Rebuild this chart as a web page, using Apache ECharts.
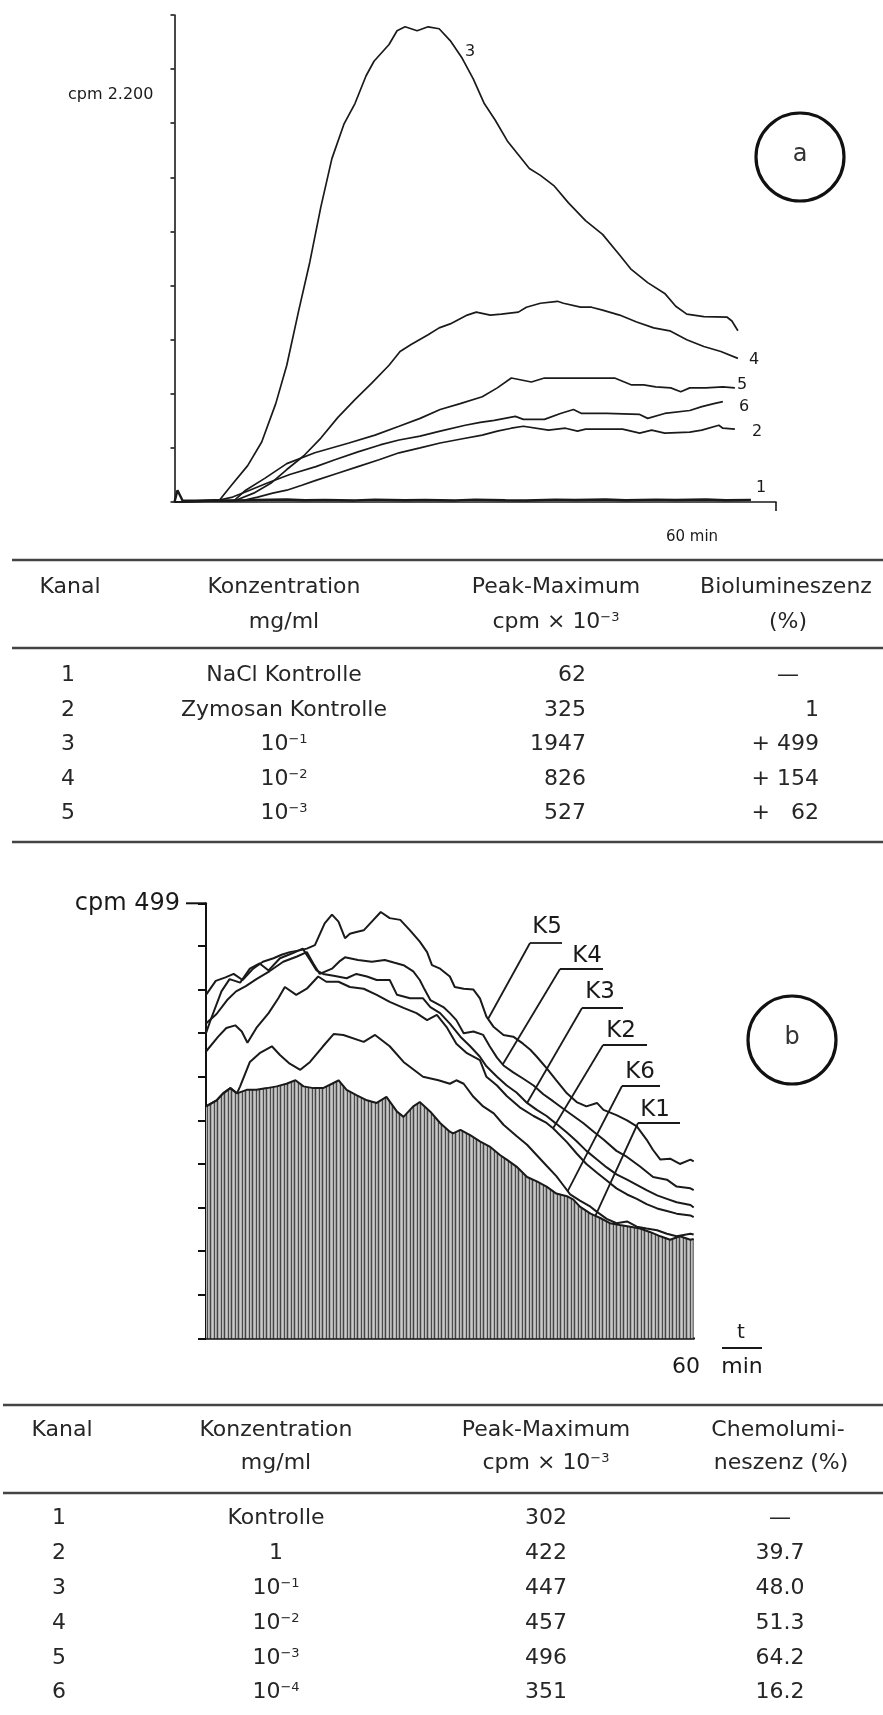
<!DOCTYPE html>
<html><head><meta charset="utf-8">
<script src="https://cdn.jsdelivr.net/npm/echarts@6/dist/echarts.min.js"></script>
<style>html,body{margin:0;padding:0;background:#fff}#c{width:883px;height:1715px}</style>
</head><body><div id="c"></div>
<script>
// ---------------- DATA ----------------
const seriesNamesA = ['1','2','3','4','5','6'];
const yLabelA = 'cpm 2.200';
const xLabelA = '60 min';
const circleLabelA = 'a';
// chart a: [minutes, cpm]
const curveA1 = [[0,0],[0.3,60],[0.8,8],[2,6],[4,9],[6,7],[8,10],[11.2,13],[13,9],[15,11],[18,8],[20,12],[23,9],[25,11],[28,8],[30,12],[33,9],[35,8],[38,12],[40,10],[43,13],[45,9],[48,12],[50,10],[53,13],[55,9],[57.5,11]];
const curveA2 = [[0,0],[5,5],[7,10],[8.3,25],[9.8,45],[11.2,60],[12.7,85],[14.1,110],[16.2,145],[18.3,180],[20.4,215],[22.4,250],[24.5,275],[26.5,300],[28.6,320],[30.7,340],[32.2,360],[33.6,375],[34.8,385],[37.3,365],[39,375],[40.2,360],[41,370],[44.7,370],[46.4,350],[47.6,365],[48.9,350],[51.4,355],[52.6,365],[54.3,390],[54.7,375],[55.9,370]];
const curveA3 = [[0,0],[2,5],[4,8],[4.5,10],[5.6,80],[7.3,185],[8.7,305],[10.1,500],[11.2,695],[12.4,975],[13.5,1220],[14.6,1500],[15.7,1745],[16.9,1920],[18,2025],[19.1,2165],[19.9,2240],[21.4,2325],[22.2,2395],[23,2415],[24.2,2395],[25.3,2415],[26.4,2405],[27.5,2345],[28.7,2255],[29.8,2150],[30.9,2025],[32,1940],[33.2,1835],[34.3,1765],[35.4,1695],[36.5,1660],[37.9,1605],[39.3,1520],[41,1430],[42.7,1360],[44.4,1255],[45.5,1185],[47.2,1115],[48.9,1060],[50,995],[51.1,955],[52.8,942],[55.1,940],[55.6,920],[56.2,870]];
const curveA4 = [[0,0],[3,4],[5.5,6],[6.2,10],[7.9,45],[9.6,95],[11.2,165],[12.9,235],[14.6,325],[16.3,430],[18,520],[19.7,605],[21.4,695],[22.5,765],[23.6,800],[25.3,850],[26.4,885],[27.5,905],[29.2,950],[30.1,965],[31.5,950],[32.6,955],[34.3,965],[35.1,990],[36.5,1010],[38.2,1020],[38.8,1010],[40.5,990],[41.6,990],[42.7,975],[44.4,950],[46.1,915],[47.8,885],[49.4,870],[51.1,825],[52.8,790],[54.5,765],[56.2,730]];
const curveA5 = [[0,0],[4,5],[6,10],[7.1,60],[9,120],[11.2,195],[14,250],[17.4,300],[20,340],[22.4,385],[24.5,425],[26.5,470],[28.5,500],[30.7,535],[32.2,580],[33.6,630],[35.6,610],[36.9,630],[40,630],[43.9,630],[45.6,595],[46.8,595],[48,585],[49.5,580],[50.5,560],[51.4,580],[53,580],[54.7,585],[55.9,580]];
const curveA6 = [[0,0],[4,5],[5.8,25],[7.5,60],[9.2,95],[11.5,140],[14.1,180],[16,215],[18.3,255],[20.5,290],[22.4,315],[24.5,335],[26.5,360],[29,390],[30.5,405],[31.9,415],[34,435],[34.8,420],[36.9,420],[38.5,450],[39.8,470],[40.6,450],[43.1,450],[46.4,445],[47.2,425],[48.9,450],[51.4,465],[52.6,485],[53.8,500],[54.7,510]];

const seriesNamesB = ['K1','K2','K3','K4','K5','K6'];
const yLabelB = 'cpm 499';
const xLabelB = '60';
const unitLabelB = ['t','min'];
const circleLabelB = 'b';
// chart b: [minutes, cpm]
const curveK1 = [[0,266],[1.3,273],[2.1,281],[3,287],[3.8,281],[5,285],[6.2,285],[7.5,287],[8.7,289],[9.9,292],[11,296],[12,289],[13.2,287],[14.4,287],[15.5,292],[16.3,296],[17.3,285],[18.5,279],[19.8,273],[21,270],[22.2,277],[23.5,260],[24.3,254],[25.5,266],[26.3,271],[27.6,260],[28.8,247],[30,237],[30.4,235],[31.3,239],[32.5,233],[33.7,226],[34.9,220],[36.2,210],[37,205],[38.2,197],[39.5,185],[40.7,180],[41.9,174],[43.1,166],[44.4,163],[45.2,159],[46,151],[47.3,143],[48.5,138],[49.7,132],[50.9,130],[52.2,128],[53.4,126],[54.6,122],[55.9,117],[57.1,113],[58.3,117],[59.6,113],[60,114]];
const curveK2 = [[0,329],[1.5,346],[2.5,356],[3.6,359],[4.4,352],[5.1,339],[6.2,356],[7.7,373],[8.9,390],[9.7,403],[11.1,394],[12.4,401],[13.8,415],[14.8,409],[16.3,409],[17.7,403],[19.4,401],[21,394],[22.6,386],[24.3,379],[25.9,373],[27.2,365],[28.4,371],[29.6,357],[30.8,338],[32.1,327],[33.7,319],[34.5,300],[35.8,290],[37,278],[38.6,265],[40.3,255],[41.9,247],[42.7,241],[44.4,225],[45.6,212],[46.8,200],[48.1,190],[49.3,181],[50.5,172],[51.8,165],[53,160],[54.2,154],[55.5,149],[56.7,146],[57.9,143],[59.6,141],[60,139]];
const curveK3 = [[0,350],[0.6,366],[1.9,398],[2.9,412],[4.2,408],[5.4,424],[6.6,430],[7.7,422],[9.1,436],[10.7,442],[11.9,447],[12.8,434],[13.6,422],[14.4,418],[15.7,416],[17.3,413],[18.5,418],[19.8,415],[21,411],[22.6,411],[23.5,394],[25.1,390],[26.7,390],[27.6,380],[28.8,373],[30,361],[31.3,346],[32.5,335],[33.7,323],[34.5,312],[35.8,300],[37,290],[38.2,282],[39.5,270],[40.7,262],[41.9,255],[43.1,246],[44.4,236],[45.6,226],[46.8,215],[48.1,205],[49.3,196],[50.5,188],[51.8,182],[53,176],[54.2,170],[55.5,164],[56.7,160],[57.9,156],[59.6,153],[60,150]];
const curveK4 = [[0,361],[1.3,372],[2.6,388],[3.7,398],[4.9,404],[6.2,412],[7.8,421],[9.5,432],[11.2,438],[12.4,443],[13.2,430],[14,418],[15.5,424],[16.5,433],[17.1,437],[18.7,434],[20.4,432],[22,434],[23.1,431],[24.3,428],[25.5,421],[26.3,411],[26.9,400],[27.6,388],[29.2,380],[30,373],[30.8,365],[31.7,350],[32.9,352],[34.1,348],[34.9,335],[35.8,322],[36.6,313],[37.8,305],[39,298],[40.3,290],[41.5,280],[42.7,272],[44,263],[45.2,255],[46.4,247],[47.7,237],[48.9,228],[50.5,215],[51.8,208],[53.4,197],[55,185],[56.7,182],[57.9,174],[59.6,172],[60,170]];
const curveK5 = [[0,394],[1.2,410],[2.4,414],[3.4,418],[4.5,411],[5.8,424],[7,432],[8.3,436],[9.3,440],[10.3,443],[11.5,445],[12.4,447],[13.4,451],[14.6,476],[15.5,486],[16.3,478],[17.1,459],[17.7,464],[18.5,466],[19.4,468],[20.4,478],[21.5,489],[22.6,482],[23.9,480],[25.1,468],[26.3,455],[27.2,443],[27.8,428],[28.8,424],[30,415],[30.6,403],[31.7,401],[32.9,400],[33.7,390],[34.5,369],[35.4,357],[36.6,348],[37.8,346],[39,338],[39.9,331],[40.7,323],[41.9,310],[43.1,296],[44.4,281],[45.6,271],[46.8,266],[48.1,270],[48.9,262],[50.5,256],[51.8,250],[53,243],[54.2,228],[55,216],[55.9,205],[57.1,206],[58.3,200],[59.6,205],[60,203]];
const curveK6 = [[0,266],[1.3,273],[2.1,281],[3,287],[3.8,281],[4.2,289],[5.4,317],[6.6,327],[8.1,335],[9.1,325],[10.3,315],[11.6,308],[12.8,317],[14.4,335],[15.7,349],[16.9,348],[19.4,340],[20.8,348],[22.6,335],[24.3,317],[26.7,300],[28.6,296],[30,292],[30.8,296],[31.7,292],[32.9,277],[34.1,266],[35.4,258],[36.6,245],[38.2,232],[39.5,222],[40.7,210],[41.9,198],[43.1,186],[44,175],[44.8,165],[46,158],[47.3,151],[48.1,145],[49.3,137],[50.5,132],[51.8,134],[53,128],[54.2,126],[55.5,124],[56.7,120],[57.9,117],[59.6,120],[60,119]];

// tables
const tableAHeader1 = ['Kanal','Konzentration','Peak-Maximum','Biolumineszenz'];
const tableAHeader2 = ['','mg/ml','cpm × 10{sup|−3}','(%)'];
const tableAKanal = ['1','2','3','4','5'];
const tableAKonz = ['NaCl Kontrolle','Zymosan Kontrolle','10{sup|−1}','10{sup|−2}','10{sup|−3}'];
const tableAPeak = ['62','325','1947','826','527'];
const tableABio = ['—','1','+ 499','+ 154','+   62'];

const tableBHeader1 = ['Kanal','Konzentration','Peak-Maximum','Chemolumi-'];
const tableBHeader2 = ['','mg/ml','cpm × 10{sup|−3}','neszenz (%)'];
const tableBKanal = ['1','2','3','4','5','6'];
const tableBKonz = ['Kontrolle','1','10{sup|−1}','10{sup|−2}','10{sup|−3}','10{sup|−4}'];
const tableBPeak = ['302','422','447','457','496','351'];
const tableBChemo = ['—','39.7','48.0','51.3','64.2','16.2'];

// ---------------- STYLE / LAYOUT ----------------
const FONT = 'DejaVu Sans';
const INK = '#1a1a1a';
const TXT = '#262626';

function stripePattern(){
  const c = document.createElement('canvas');
  c.width = 7; c.height = 4;
  const g = c.getContext('2d');
  const cols = ['#454545','#a9a9a9','#c9c9c9','#b0b0b0','#4a4a4a','#bdbdbd','#a0a0a0'];
  cols.forEach((col,i)=>{ g.fillStyle = col; g.fillRect(i,0,1,4); });
  return c;
}

const chart = echarts.init(document.getElementById('c'), null, {renderer:'canvas', width:883, height:1715});

function lineSeries(name, data, xi, width){
  return {name, type:'line', xAxisIndex:xi, yAxisIndex:xi, data, symbol:'none', smooth:false,
    lineStyle:{color:INK, width}, silent:true, z:3};
}

const series = [
  lineSeries(seriesNamesA[0], curveA1, 0, 2.4),
  lineSeries(seriesNamesA[1], curveA2, 0, 1.7),
  lineSeries(seriesNamesA[2], curveA3, 0, 1.7),
  lineSeries(seriesNamesA[3], curveA4, 0, 1.7),
  lineSeries(seriesNamesA[4], curveA5, 0, 1.7),
  lineSeries(seriesNamesA[5], curveA6, 0, 1.7),
  Object.assign(lineSeries(seriesNamesB[0], curveK1, 1, 2), {areaStyle:{color:{image:stripePattern(), repeat:'repeat'}, opacity:1}, z:2}),
  lineSeries(seriesNamesB[1], curveK2, 1, 2),
  lineSeries(seriesNamesB[2], curveK3, 1, 2),
  lineSeries(seriesNamesB[3], curveK4, 1, 2),
  lineSeries(seriesNamesB[4], curveK5, 1, 2),
  lineSeries(seriesNamesB[5], curveK6, 1, 2)
];

chart.setOption({
  animation:false,
  backgroundColor:'#ffffff',
  grid:[{left:174.5, top:15, width:601.5, height:487},{left:206, top:903.3, width:487.7, height:435}],
  xAxis:[
    {gridIndex:0, type:'value', min:0, max:60, interval:60,
     axisLine:{lineStyle:{color:INK, width:1.6}},
     axisTick:{show:true, customValues:[60], length:9, lineStyle:{color:INK, width:1.6}},
     axisLabel:{show:false}, splitLine:{show:false}},
    {gridIndex:1, type:'value', min:0, max:60, interval:60,
     axisLine:{lineStyle:{color:'#111', width:2.6}},
     axisTick:{show:false}, axisLabel:{show:false}, splitLine:{show:false}}
  ],
  yAxis:[
    {gridIndex:0, type:'value', min:0, max:2475, interval:275,
     axisLine:{show:true, lineStyle:{color:INK, width:1.6}},
     axisTick:{show:true, length:4, lineStyle:{color:INK, width:1.6}},
     axisLabel:{show:false}, splitLine:{show:false}},
    {gridIndex:1, type:'value', min:0, max:499, interval:50,
     axisLine:{show:true, lineStyle:{color:'#111', width:2}},
     axisTick:{show:true, length:8, lineStyle:{color:'#111', width:2}},
     axisLabel:{show:true, showMaxLabel:true, margin:26, fontSize:24, fontFamily:FONT, color:INK,
       formatter:(v)=> v===499 ? yLabelB : ''},
     splitLine:{show:false}}
  ],
  series
});

// ---------------- ANNOTATIONS ----------------
function valueAt(data, t){
  for (let i=1;i<data.length;i++){
    if (data[i][0] >= t){
      const a=data[i-1], b=data[i];
      return a[1] + (b[1]-a[1])*(t-a[0])/(b[0]-a[0]);
    }
  }
  return data[data.length-1][1];
}
function txt(x,y,text,size,align,extra){
  return Object.assign({type:'text', x, y, z:10, silent:true,
    style:Object.assign({text, fontSize:size, fontFamily:FONT, fill:TXT, align:align||'center', verticalAlign:'middle',
      rich:{sup:{fontSize:Math.round(size*0.6), fontFamily:FONT, fill:TXT, verticalAlign:'top'}}}, extra||{})});
}
function hline(x1,x2,y,w,col){
  return {type:'line', z:10, silent:true, shape:{x1,y1:y,x2,y2:y}, style:{stroke:col||'#444', lineWidth:w||2}};
}
const g = [];

// chart a texts
g.push(txt(68, 95, yLabelA, 16, 'left', {fill:INK}));
g.push(txt(692, 537, xLabelA, 15, 'center', {fill:INK}));
g.push({type:'circle', z:10, silent:true, shape:{cx:800, cy:157, r:44}, style:{fill:'none', stroke:'#111', lineWidth:3.2}});
g.push(txt(800, 155, circleLabelA, 24, 'center', {fill:'#333'}));
const labelPosA = {'3':[470,52],'4':[754,360],'5':[742,385],'6':[744,407],'2':[757,432],'1':[761,488]};
seriesNamesA.forEach(n=>{ const p=labelPosA[n]; g.push(txt(p[0],p[1],n,16,'center',{fill:INK})); });

// table a
const colA = {kanal:70, konz:284, peak:556, bio:788};
g.push(hline(12, 883, 560, 2.6));
tableAHeader1.forEach((h,i)=>{ const x=[colA.kanal,colA.konz,colA.peak,786][i]; g.push(txt(x,587,h,22)); });
tableAHeader2.forEach((h,i)=>{ if(!h) return; const x=[colA.kanal,colA.konz,colA.peak,colA.bio][i]; g.push(txt(x,622,h,22)); });
g.push(hline(12, 883, 648, 2.6));
const rowYA = [675,710,744,779,813];
tableAKanal.forEach((v,i)=>{
  g.push(txt(68, rowYA[i], v, 22));
  g.push(txt(colA.konz, rowYA[i], tableAKonz[i], 22));
  g.push(txt(586, rowYA[i], tableAPeak[i], 22, 'right'));
  const b = tableABio[i];
  if (b === '—') g.push(txt(colA.bio, rowYA[i], b, 22)); else g.push(txt(819, rowYA[i], b, 22, 'right'));
});
g.push(hline(12, 883, 842, 2.6));

// chart b texts
g.push(txt(686, 1367, xLabelB, 22, 'center', {fill:INK}));
g.push(txt(741, 1333, unitLabelB[0], 20, 'center', {fill:INK}));
g.push(hline(722, 762, 1348, 1.8, INK));
g.push(txt(742, 1367, unitLabelB[1], 22, 'center', {fill:INK}));
g.push({type:'circle', z:10, silent:true, shape:{cx:792, cy:1040, r:44}, style:{fill:'none', stroke:'#111', lineWidth:3.2}});
g.push(txt(792, 1038, circleLabelB, 24, 'center', {fill:'#333'}));
// long top tick
const topPix = chart.convertToPixel({xAxisIndex:1, yAxisIndex:1}, [0, 499]);
g.push(hline(186, topPix[0], topPix[1], 2, '#111'));

// leader labels
const leaderLayout = [
  {name:'K5', data:curveK5, text:[547,927], ul:[530,562,943], t:34.7},
  {name:'K4', data:curveK4, text:[587,956], ul:[560,603,969], t:36.5},
  {name:'K3', data:curveK3, text:[600,992], ul:[582,623,1008], t:39.5},
  {name:'K2', data:curveK2, text:[621,1031], ul:[603,647,1045], t:42.7},
  {name:'K6', data:curveK6, text:[640,1072], ul:[622,660,1086], t:44.5},
  {name:'K1', data:curveK1, text:[655,1110], ul:[638,680,1123], t:47.9}
];
leaderLayout.forEach(L=>{
  const end = chart.convertToPixel({xAxisIndex:1, yAxisIndex:1}, [L.t, valueAt(L.data, L.t)]);
  g.push(txt(L.text[0], L.text[1], L.name, 23, 'center', {fill:INK}));
  g.push(hline(L.ul[0], L.ul[1], L.ul[2], 1.8, INK));
  g.push({type:'line', z:10, silent:true, shape:{x1:L.ul[0], y1:L.ul[2], x2:end[0], y2:end[1]}, style:{stroke:INK, lineWidth:1.8}});
});

// table b
const colB = {kanal:62, konz:276, peak:546, chemo:780};
g.push(hline(3, 883, 1405, 2.6));
tableBHeader1.forEach((h,i)=>{ const x=[colB.kanal,colB.konz,colB.peak,778][i]; g.push(txt(x,1430,h,22)); });
tableBHeader2.forEach((h,i)=>{ if(!h) return; const x=[colB.kanal,colB.konz,colB.peak,781][i]; g.push(txt(x,1463,h,22)); });
g.push(hline(3, 883, 1493, 2.6));
const rowYB = [1518,1553,1588,1623,1658,1692];
tableBKanal.forEach((v,i)=>{
  g.push(txt(59, rowYB[i], v, 22));
  g.push(txt(colB.konz, rowYB[i], tableBKonz[i], 22));
  g.push(txt(colB.peak, rowYB[i], tableBPeak[i], 22));
  g.push(txt(colB.chemo, rowYB[i], tableBChemo[i], 22));
});

chart.setOption({graphic:{elements:g}});
</script></body></html>
